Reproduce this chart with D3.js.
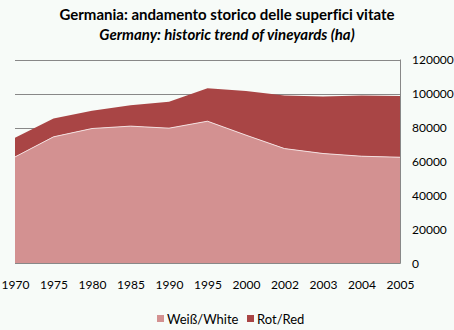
<!DOCTYPE html>
<html>
<head>
<meta charset="utf-8">
<script src="https://cdn.jsdelivr.net/npm/d3@7"></script>
<style>
  html, body { margin: 0; padding: 0; background: #f7fbf8; }
  svg { display: block; }
  text { font-family: Lato, "Open Sans", sans-serif; fill: #000; font-variant-ligatures: none; }
</style>
</head>
<body>
<svg id="chart" width="454" height="330"></svg>
<script>
// Vineyard area in Germany, hectares
const years = ["1970", "1975", "1980", "1985", "1990", "1995", "2000", "2002", "2003", "2004", "2005"];
const white = [62700, 74500, 79400, 80800, 79600, 83700, 75500, 67600, 64700, 63100, 62500];
const red   = [11200, 10800, 10400, 12300, 15500, 19400, 26000, 31200, 33500, 35700, 36100];
const yTicks = [0, 20000, 40000, 60000, 80000, 100000, 120000];
const seriesNames = ["Weiß/White", "Rot/Red"];
const seriesColors = ["#d39191", "#a94545"];

const svg = d3.select("#chart");
const plotLeft = 15, plotRight = 400, plotTop = 59.5, plotBottom = 263.5;

const x = d3.scalePoint().domain(years).range([plotLeft, plotRight]);
const y = d3.scaleLinear().domain([0, 120000]).range([plotBottom, plotTop]);

// Titles
svg.append("text").attr("x", 227).attr("y", 20).attr("text-anchor", "middle")
  .style("font-size", "15px").style("font-weight", "bold")
  .text("Germania: andamento storico delle superfici vitate");
svg.append("text").attr("x", 227).attr("y", 40).attr("text-anchor", "middle")
  .style("font-size", "15px").style("font-weight", "bold").style("font-style", "italic")
  .text("Germany: historic trend of vineyards (ha)");

// Gridlines
svg.append("g").selectAll("line").data(yTicks.filter(d => d > 0)).join("line")
  .attr("x1", plotLeft).attr("x2", plotRight)
  .attr("y1", d => Math.round(y(d)) + 0.5).attr("y2", d => Math.round(y(d)) + 0.5)
  .attr("stroke", "#888").attr("stroke-width", 1);

// Stacked areas
const rows = years.map((yr, i) => ({ year: yr, white: white[i], red: red[i] }));
const stack = d3.stack().keys(["white", "red"])(rows);
const area = d3.area()
  .x(d => x(d.data.year))
  .y0(d => y(d[0]))
  .y1(d => y(d[1]));

svg.append("g").selectAll("path").data(stack.slice().reverse()).join("path")
  .attr("d", area)
  .attr("fill", d => seriesColors[d.index]);

// Light edge along the top of the white series
const edge = d3.line().x(d => x(d.data.year)).y(d => y(d[1]));
svg.append("path").datum(stack[0]).attr("d", edge)
  .attr("fill", "none").attr("stroke", "#f3dede").attr("stroke-width", 1);

// Axis frame: bottom and right
svg.append("line").attr("x1", plotLeft).attr("x2", plotRight + 0.5).attr("y1", plotBottom).attr("y2", plotBottom)
  .attr("stroke", "#888");
svg.append("line").attr("x1", plotRight + 0.5).attr("x2", plotRight + 0.5).attr("y1", plotTop).attr("y2", plotBottom)
  .attr("stroke", "#888");

// Right-hand value axis
const yAxis = d3.axisRight(y).tickValues(yTicks).tickSize(0).tickPadding(12).tickFormat(d3.format("d"));
const ya = svg.append("g").attr("transform", `translate(${plotRight},0)`).call(yAxis);
ya.select(".domain").remove();
ya.selectAll("text").style("font-size", "12px").style("font-family", "Lato, 'Open Sans', sans-serif").attr("fill", "#000");

// Category axis
const xAxis = d3.axisBottom(x).tickSize(0).tickPadding(17);
const xa = svg.append("g").attr("transform", `translate(0,${plotBottom})`).call(xAxis);
xa.select(".domain").remove();
xa.selectAll("text").style("font-size", "12px").style("font-family", "Lato, 'Open Sans', sans-serif").attr("fill", "#000");

// Legend
const legend = svg.append("g");
const legendX = [157, 247];
seriesNames.forEach((name, i) => {
  const g = legend.append("g").attr("transform", `translate(${legendX[i]},315)`);
  g.append("rect").attr("width", 7).attr("height", 7).attr("fill", seriesColors[i]);
  g.append("text").attr("x", 10).attr("y", 8.5).style("font-size", "13px").text(name);
});
</script>
</body>
</html>
